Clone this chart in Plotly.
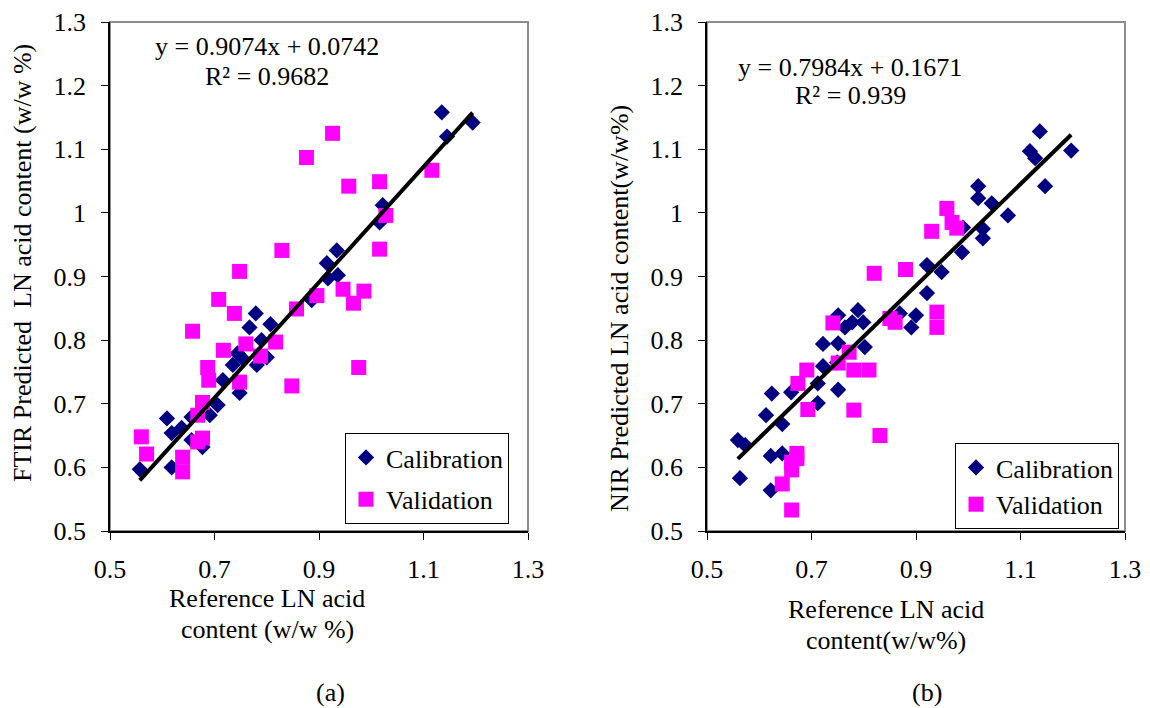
import plotly.graph_objects as go

# ---------------- data ----------------
# (a) FTIR
ftir_cal_x = [0.557, 0.609, 0.618, 0.618, 0.637, 0.656, 0.656, 0.677, 0.691, 0.706,
              0.716, 0.748, 0.735, 0.781, 0.744, 0.767, 0.779, 0.807, 0.800, 0.755,
              0.790, 0.886, 0.915, 0.917, 0.934, 0.936, 1.016, 1.022, 1.135, 1.145, 1.194]
ftir_cal_y = [0.597, 0.677, 0.654, 0.600, 0.662, 0.643, 0.679, 0.632, 0.682, 0.698,
              0.737, 0.717, 0.761, 0.761, 0.779, 0.820, 0.842, 0.825, 0.773, 0.770,
              0.800, 0.863, 0.921, 0.897, 0.941, 0.902, 0.985, 1.012, 1.158, 1.120, 1.142]
ftir_val_x = [0.926, 0.876, 0.957, 1.016, 1.116, 1.028, 0.829, 0.748, 0.708, 0.738,
              0.658, 0.717, 0.760, 0.788, 0.817, 0.857, 0.896, 0.687, 0.689, 0.748,
              0.848, 0.677, 0.668, 0.677, 0.668, 0.560, 0.570, 0.639, 0.639, 1.016,
              0.946, 0.986, 0.966, 0.976]
ftir_val_y = [1.125, 1.087, 1.042, 1.049, 1.067, 0.996, 0.941, 0.908, 0.864, 0.842,
              0.814, 0.784, 0.794, 0.775, 0.797, 0.849, 0.870, 0.757, 0.737, 0.734,
              0.728, 0.702, 0.682, 0.646, 0.640, 0.648, 0.621, 0.616, 0.593, 0.943,
              0.880, 0.877, 0.858, 0.757]
ftir_slope, ftir_intercept, ftir_r2 = 0.9074, 0.0742, 0.9682

# (b) NIR
nir_cal_x = [1.137, 1.118, 1.128, 1.197, 1.147, 1.019, 1.019, 1.045, 1.076, 0.990,
             1.028, 1.028, 0.988, 0.921, 0.949, 0.921, 0.869, 0.900, 0.891, 0.751,
             0.789, 0.799, 0.778, 0.764, 0.722, 0.751, 0.802, 0.722, 0.749, 0.624,
             0.661, 0.712, 0.712, 0.751, 0.613, 0.644, 0.559, 0.573, 0.622, 0.644,
             0.563, 0.622]
nir_cal_y = [1.128, 1.097, 1.086, 1.098, 1.042, 1.042, 1.023, 1.015, 0.996, 0.977,
             0.975, 0.960, 0.938, 0.918, 0.907, 0.874, 0.842, 0.839, 0.820, 0.839,
             0.847, 0.828, 0.828, 0.820, 0.794, 0.795, 0.789, 0.759, 0.765, 0.716,
             0.718, 0.732, 0.701, 0.722, 0.682, 0.668, 0.643, 0.635, 0.618, 0.622,
             0.583, 0.564]
nir_val_x = [0.959, 0.969, 0.978, 0.930, 0.880, 0.820, 0.940, 0.940, 0.860, 0.850,
             0.741, 0.691, 0.674, 0.693, 0.772, 0.751, 0.781, 0.810, 0.781, 0.831,
             0.672, 0.672, 0.662, 0.662, 0.644, 0.662]
nir_val_y = [1.007, 0.985, 0.976, 0.971, 0.911, 0.905, 0.844, 0.820, 0.828, 0.834,
             0.827, 0.753, 0.732, 0.691, 0.781, 0.764, 0.753, 0.753, 0.690, 0.650,
             0.622, 0.614, 0.608, 0.596, 0.574, 0.533]
nir_slope, nir_intercept, nir_r2 = 0.7984, 0.1671, 0.939

x_ticks = [0.5, 0.7, 0.9, 1.1, 1.3]
y_ticks = [0.5, 0.6, 0.7, 0.8, 0.9, 1.0, 1.1, 1.2, 1.3]

# ---------------- style ----------------
FONT = "Liberation Serif"
NAVY = "#000080"
MAGENTA = "#FF00FF"
W, H = 1150, 708

def px(x):
    return x / W

def py(y):
    return (H - y) / H

fig = go.Figure()

def add_panel(cx, cy, vx, vy, slope, intercept, xa, ya, legend):
    fig.add_trace(go.Scatter(x=cx, y=cy, mode="markers", name="Calibration",
                             marker=dict(symbol="diamond", size=12.5, color=NAVY, line=dict(width=0)),
                             xaxis=xa, yaxis=ya, legend=legend, legendgroup=legend + "c"))
    fig.add_trace(go.Scatter(x=vx, y=vy, mode="markers", name="Validation",
                             marker=dict(symbol="square", size=15, color=MAGENTA, line=dict(width=0)),
                             xaxis=xa, yaxis=ya, legend=legend, legendgroup=legend + "v"))
    lx = [min(cx), max(cx)]
    ly = [slope * v + intercept for v in lx]
    fig.add_trace(go.Scatter(x=lx, y=ly, mode="lines", showlegend=False,
                             line=dict(color="black", width=4),
                             xaxis=xa, yaxis=ya))

add_panel(ftir_cal_x, ftir_cal_y, ftir_val_x, ftir_val_y, ftir_slope, ftir_intercept, "x", "y", "legend")
add_panel(nir_cal_x, nir_cal_y, nir_val_x, nir_val_y, nir_slope, nir_intercept, "x2", "y2", "legend2")

ydom = [py(531), py(22)]
axis_common = dict(range=[0.5, 1.3], showgrid=False, zeroline=False, showline=True,
                   linecolor="black", linewidth=1.5, ticks="outside", ticklen=7,
                   tickwidth=1, tickcolor="black", automargin=False,
                   tickfont=dict(family=FONT, size=26, color="black"))

legend_common = dict(bgcolor="white", bordercolor="black", borderwidth=1,
                     font=dict(family=FONT, size=26, color="black"),
                     xanchor="left", yanchor="top", traceorder="grouped",
                     itemwidth=30)

fig.update_layout(
    width=W, height=H, margin=dict(l=0, r=0, t=0, b=0, autoexpand=False),
    paper_bgcolor="white", plot_bgcolor="white",
    font=dict(family=FONT, size=26, color="black"),
    xaxis=dict(domain=[px(110), px(528)], anchor="y", tickvals=x_ticks,
               ticklabelstandoff=7, **axis_common),
    yaxis=dict(domain=ydom, anchor="x", tickvals=y_ticks, ticklabelstandoff=10, **axis_common),
    xaxis2=dict(domain=[px(707), px(1125)], anchor="y2", tickvals=x_ticks,
                ticklabelstandoff=7, **axis_common),
    yaxis2=dict(domain=ydom, anchor="x2", tickvals=y_ticks, ticklabelstandoff=10, **axis_common),
    legend=dict(x=px(345), y=py(433), tracegroupgap=5, **legend_common),
    legend2=dict(x=px(955), y=py(443), tracegroupgap=0, **legend_common),
    showlegend=True,
)

# gray plot frame (top/right)
for xr, yr in [("x domain", "y domain"), ("x2 domain", "y2 domain")]:
    fig.add_shape(type="rect", xref=xr, yref=yr, x0=0, x1=1, y0=0, y1=1,
                  line=dict(color="#8c8c8c", width=2), layer="below")

def ann(text, x, y, angle=0, size=26):
    fig.add_annotation(text=text, x=px(x), y=py(y), xref="paper", yref="paper",
                       showarrow=False, xanchor="center", yanchor="middle",
                       textangle=angle, font=dict(family=FONT, size=size, color="black"))

# equations
ann(f"y = {ftir_slope}x + {ftir_intercept}", 267, 47)
ann(f"R² = {ftir_r2}", 267, 77)
ann(f"y = {nir_slope}x + {nir_intercept}", 850, 67)
ann(f"R² = {nir_r2}", 850, 95)

# axis titles
ann("Reference LN acid", 267, 598)
ann("content (w/w %)", 267, 629)
ann("Reference LN acid", 886, 609)
ann("content(w/w%)", 886, 640)
ann("FTIR Predicted  LN acid content (w/w %)", 22, 263, angle=-90)
ann("NIR Predicted LN acid content(w/w%)", 620, 309, angle=-90)

# panel labels
ann("(a)", 330, 692)
ann("(b)", 927, 692)

fig.write_html("out.html")
